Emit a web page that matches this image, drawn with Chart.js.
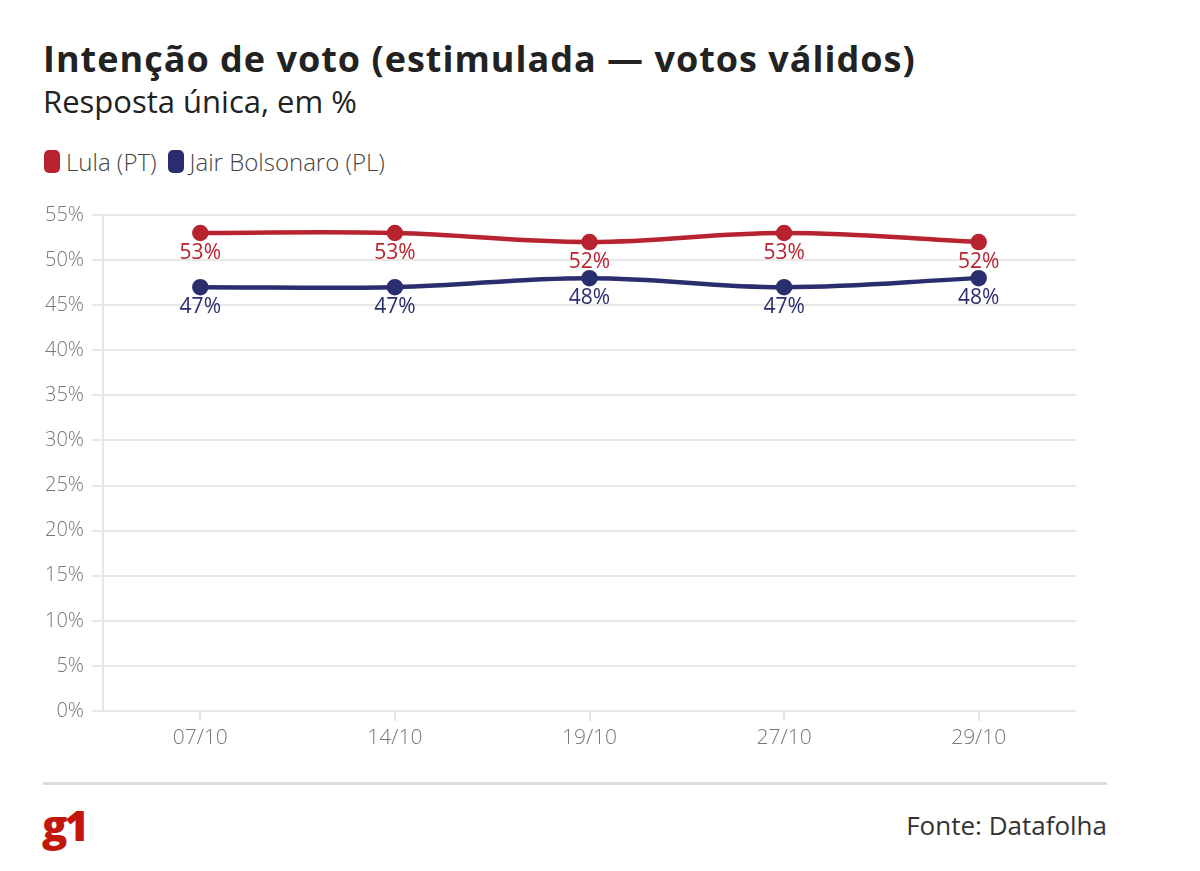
<!DOCTYPE html>
<html>
<head>
<meta charset="utf-8">
<script src="https://cdn.jsdelivr.net/npm/chart.js@4"></script>
<style>
  body { margin: 0; background: #fff; font-family: "Open Sans", sans-serif; }
  #page { position: relative; width: 1200px; height: 871px; }
  #title { position: absolute; left: 43px; top: 34px; font-size: 36px; letter-spacing: 1px; font-weight: 700; color: #222; white-space: nowrap; }
  #subtitle { position: absolute; left: 43px; top: 80px; font-size: 31px; color: #222; white-space: nowrap; }
  #legend { position: absolute; left: 44px; top: 145px; font-size: 24px; font-weight: 300; color: #444; display: flex; align-items: center; }
  .sw { display: inline-block; width: 16px; height: 23px; border-radius: 5px; margin-right: 6px; }
  .item { display: flex; align-items: center; margin-right: 11px; }
  #wrap { position: absolute; left: 0; top: 195px; width: 1200px; height: 565px; }
  #rule { position: absolute; left: 43px; top: 782px; width: 1064px; height: 3px; background: #dcdcdc; }
  #logo { position: absolute; left: 42px; top: 796px; font-size: 42px; font-weight: 800; color: #c4170c; letter-spacing: -3px; }
  #source { position: absolute; right: 93px; top: 807px; font-size: 26px; color: #333; }
</style>
</head>
<body>
<div id="page">
  <div id="title">Intenção de voto (estimulada — votos válidos)</div>
  <div id="subtitle">Resposta única, em %</div>
  <div id="legend">
    <span class="item"><span class="sw" style="background:#b82330"></span>Lula (PT)</span>
    <span class="item"><span class="sw" style="background:#2b2e6e"></span>Jair Bolsonaro (PL)</span>
  </div>
  <div id="wrap"><canvas id="chart"></canvas></div>
  <div id="rule"></div>
  <div id="logo">g1</div>
  <div id="source">Fonte: Datafolha</div>
</div>
<script>
const dates = ["07/10", "14/10", "19/10", "27/10", "29/10"];
const lula = [53, 53, 52, 53, 52];
const bolsonaro = [47, 47, 48, 47, 48];
const yTicks = [0, 5, 10, 15, 20, 25, 30, 35, 40, 45, 50, 55];

const red = "#b82330";
const navy = "#2b2e6e";

// values written under each point
const pointLabels = {
    id: "pointLabels",
    afterDatasetsDraw(chart) {
        const ctx = chart.ctx;
        ctx.save();
        ctx.font = "21px 'Open Sans'";
        ctx.textAlign = "center";
        ctx.textBaseline = "middle";
        chart.data.datasets.forEach((ds, i) => {
            const meta = chart.getDatasetMeta(i);
            ctx.fillStyle = ds.borderColor;
            meta.data.forEach((pt, j) => {
                ctx.fillText(ds.data[j] + "%", pt.x, pt.y + 20);
            });
        });
        ctx.restore();
    }
};

const ctx = document.getElementById("chart").getContext("2d");
new Chart(ctx, {
    type: "line",
    data: {
        labels: dates,
        datasets: [
            {
                label: "Lula (PT)",
                data: lula,
                borderColor: red,
                backgroundColor: red,
                borderWidth: 4.5,
                pointRadius: 6,
                tension: 0.4
            },
            {
                label: "Jair Bolsonaro (PL)",
                data: bolsonaro,
                borderColor: navy,
                backgroundColor: navy,
                borderWidth: 4.5,
                pointRadius: 6,
                tension: 0.4
            }
        ]
    },
    options: {
        responsive: true,
        maintainAspectRatio: false,
        animation: false,
        layout: { padding: { top: 9, right: 124, left: 0, bottom: 0 } },
        plugins: {
            legend: { display: false },
            tooltip: { enabled: false }
        },
        scales: {
            x: {
                offset: true,
                afterFit: s => { s.height = 49; },
                grid: { drawOnChartArea: false, drawTicks: true, tickLength: 10, color: "#e6e6e6", lineWidth: 2 },
                border: { display: false },
                ticks: { color: "#777", font: { family: "Open Sans", size: 21, weight: 300 }, padding: 4 }
            },
            y: {
                min: 0,
                max: 55,
                afterFit: s => { s.width = 103; },
                afterBuildTicks: s => { s.ticks = yTicks.map(v => ({ value: v })); },
                grid: { color: "#e8e8e8", lineWidth: 2, tickLength: 11 },
                border: { display: true, color: "#e6e6e6", width: 2 },
                ticks: {
                    color: "#777",
                    font: { family: "Open Sans", size: 20, weight: 300 },
                    padding: 8,
                    callback: v => v + "%"
                }
            }
        }
    },
    plugins: [pointLabels]
});
</script>
</body>
</html>
